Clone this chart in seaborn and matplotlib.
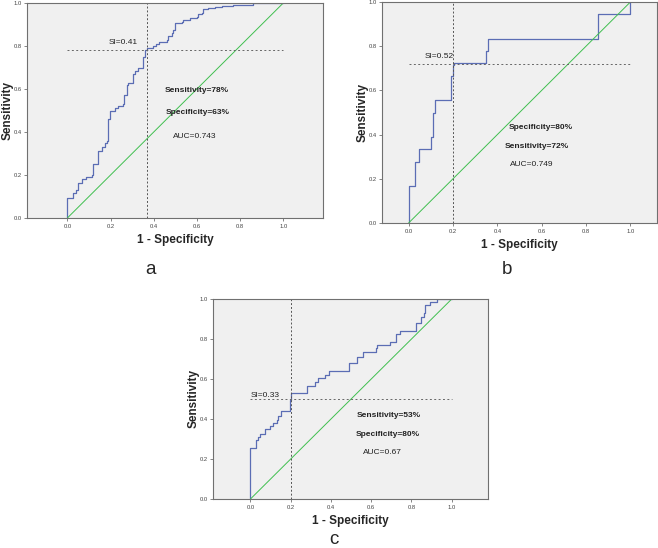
import matplotlib
matplotlib.use('Agg')
import numpy as np
import pandas as pd
import matplotlib.pyplot as plt
import seaborn as sns

# ---- data ----
fpr_a = [0, 0, 0.025, 0.04, 0.051, 0.066, 0.086, 0.113, 0.12, 0.144, 0.159, 0.174, 0.182,
         0.19, 0.198, 0.221, 0.236, 0.259, 0.262, 0.275, 0.282, 0.302, 0.313, 0.329, 0.352,
         0.36, 0.367, 0.395, 0.41, 0.426, 0.46, 0.468, 0.483, 0.491, 0.498, 0.529, 0.537,
         0.568, 0.599, 0.606, 0.622, 0.63, 0.653, 0.684, 0.714, 0.769, 0.861, 1.0]
tpr_a = [0, 0.093, 0.116, 0.13, 0.165, 0.18, 0.19, 0.2, 0.25, 0.31, 0.33, 0.35, 0.36,
         0.46, 0.50, 0.51, 0.52, 0.53, 0.57, 0.62, 0.63, 0.67, 0.685, 0.70, 0.75,
         0.78, 0.79, 0.80, 0.81, 0.82, 0.83, 0.845, 0.86, 0.875, 0.905, 0.91, 0.92,
         0.93, 0.935, 0.95, 0.955, 0.97, 0.975, 0.98, 0.985, 0.99, 1.0, 1.0]

fpr_b = [0, 0, 0.027, 0.045, 0.102, 0.11, 0.117, 0.191, 0.198, 0.203, 0.35, 0.357, 0.853, 0.962, 1.0]
tpr_b = [0, 0.166, 0.276, 0.333, 0.39, 0.50, 0.558, 0.664, 0.713, 0.725, 0.778, 0.834, 0.947, 0.947, 1.0]

fpr_c = [0, 0, 0.03, 0.038, 0.047, 0.071, 0.096, 0.113, 0.13, 0.138, 0.154, 0.196, 0.201,
         0.279, 0.32, 0.337, 0.37, 0.392, 0.492, 0.528, 0.561, 0.625, 0.631, 0.694, 0.724,
         0.741, 0.824, 0.849, 0.86, 0.869, 0.89, 0.927, 1.0]
tpr_c = [0, 0.255, 0.294, 0.31, 0.327, 0.349, 0.366, 0.382, 0.397, 0.414, 0.439, 0.494, 0.531,
         0.564, 0.584, 0.603, 0.619, 0.641, 0.678, 0.711, 0.736, 0.753, 0.77, 0.786, 0.825,
         0.84, 0.878, 0.911, 0.932, 0.97, 0.987, 1.0, 1.0]

cut_a = (0.37, 0.78)
cut_b = (0.20, 0.72)
cut_c = (0.20, 0.50)

si_a, si_b, si_c = 'SI=0.41', 'SI=0.52', 'SI=0.33'
notes_a = ['Sensitivity=78%', 'Specificity=63%', 'AUC=0.743']
notes_b = ['Specificity=80%', 'Sensitivity=72%', 'AUC=0.749']
notes_c = ['Sensitivity=53%', 'Specificity=80%', 'AUC=0.67']

ticks = [0.0, 0.2, 0.4, 0.6, 0.8, 1.0]

sns.set_style('white')
plt.rcParams['font.family'] = ['Liberation Sans', 'DejaVu Sans']

W, H = 658, 548
fig = plt.figure(figsize=(W / 100, H / 100), dpi=100)


def px_rect(left, top, right, bottom):
    return [left / W, 1 - bottom / H, (right - left) / W, (bottom - top) / H]


def roc_panel(rect, xlim, fpr, tpr, cut, si, si_pos, notes, note_pos):
    ax = fig.add_axes(rect)
    ax.set_facecolor('#f0f0f0')
    df = pd.DataFrame({'fpr': fpr, 'tpr': tpr})
    sns.lineplot(data=df, x='fpr', y='tpr', sort=False, estimator=None,
                 drawstyle='steps-post', color='#5b6db4', lw=0.9, ax=ax)
    sns.lineplot(x=[0, 1], y=[0, 1], color='#3fbf4f', lw=0.7, ax=ax)
    ax.plot([cut[0], cut[0]], [0, 1], color='#555555', lw=0.7, ls=(0, (2, 2)))
    ax.plot([0, 1], [cut[1], cut[1]], color='#666666', lw=0.7, ls=(0, (2, 2.5)))
    ax.text(si_pos[0], si_pos[1], si, fontsize=6, ha='center', va='center', color='#222222')
    for (t, (x, y), w) in zip(notes, note_pos, ['bold', 'bold', 'normal']):
        ax.text(x, y, t, fontsize=6, ha='center', va='center', color='#222222', weight=w)
    ax.set_xlim(*xlim)
    ax.set_ylim(0, 1)
    ax.set_xticks(ticks)
    ax.set_yticks(ticks)
    ax.set_xticklabels([f'{t:.1f}' for t in ticks])
    ax.set_yticklabels([f'{t:.1f}' for t in ticks])
    ax.tick_params(length=2, width=0.5, color='#555555', labelsize=4.2,
                   labelcolor='#444444', pad=2, bottom=True, left=True)
    for s in ax.spines.values():
        s.set_color('#707070')
        s.set_linewidth(0.8)
    ax.set_xlabel('1 - Specificity', fontsize=8.5, weight='bold', labelpad=4)
    ax.set_ylabel('Sensitivity', fontsize=8.5, weight='bold', labelpad=0)
    return ax


roc_panel(px_rect(27, 3, 323, 218), (-0.187, 1.184), fpr_a, tpr_a, cut_a,
          si_a, (0.258, 0.815), notes_a, [(0.6, 0.595), (0.603, 0.49), (0.588, 0.381)])
roc_panel(px_rect(382, 2, 657, 223), (-0.12, 1.12), fpr_b, tpr_b, cut_b,
          si_b, (0.14, 0.754), notes_b, [(0.594, 0.43), (0.579, 0.348), (0.556, 0.264)])
roc_panel(px_rect(213, 299, 488, 499), (-0.186, 1.18), fpr_c, tpr_c, cut_c,
          si_c, (0.071, 0.519), notes_c, [(0.686, 0.419), (0.683, 0.322), (0.658, 0.235)])

for letter, (x, y) in zip(['a', 'b', 'c'], [(150, 270), (507, 270), (334, 540)]):
    fig.text(x / W, 1 - y / H, letter, fontsize=13.5, ha='center', va='center')

fig.savefig('out.png', dpi=100)
